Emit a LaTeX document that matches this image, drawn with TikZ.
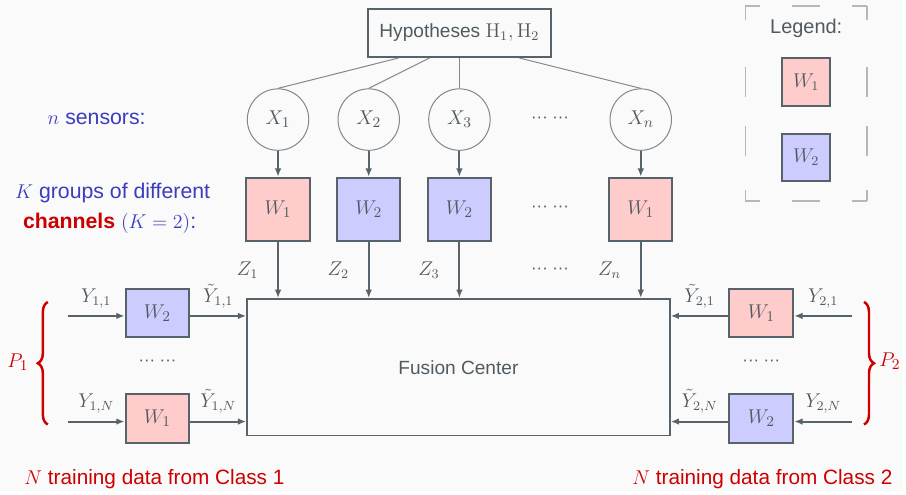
\documentclass[tikz,border=0pt]{standalone}
\usepackage{amsmath,amssymb}
\usepackage[no-math]{fontspec}
\setmainfont{Liberation Sans}
\usetikzlibrary{arrows.meta,positioning,decorations.pathreplacing}

\definecolor{bgcol}{HTML}{FAFAFA}
\definecolor{linecol}{HTML}{57636A}
\definecolor{txtcol}{HTML}{505A60}
\definecolor{circcol}{HTML}{80878D}
\definecolor{wonecol}{HTML}{FFCCCC}
\definecolor{wtwocol}{HTML}{CCCCFF}
\definecolor{bluetxt}{HTML}{3C3CBE}
\definecolor{redtxt}{HTML}{CC0000}
\definecolor{dashcol}{HTML}{B4B8BB}

\begin{document}
\begin{tikzpicture}[x=0.6pt,y=-0.6pt,
        wbox/.style={draw=linecol,line width=1.2pt,text=txtcol,inner sep=0pt,
            minimum width=38pt,minimum height=38pt,font=\fontsize{12.5}{14}\selectfont},
        sidebox/.style={wbox,minimum width=38.4pt,minimum height=29.4pt},
        legbox/.style={wbox,minimum width=28.8pt,minimum height=28.8pt,font=\fontsize{11.5}{13}\selectfont},
        sensor/.style={circle,draw=circcol,line width=0.6pt,minimum size=37pt,inner sep=0pt,
            text=txtcol,font=\fontsize{12.5}{14}\selectfont},
        arr/.style={draw=linecol,line width=1.2pt,-{Latex[length=5pt,width=4pt]}},
        feed/.style={draw=circcol,line width=0.6pt},
        lbl/.style={text=txtcol,font=\fontsize{12}{14}\selectfont},
        dotsl/.style={text=txtcol,font=\fontsize{10}{12}\selectfont},
        bluel/.style={text=bluetxt,font=\fontsize{12.8}{15}\selectfont},
        redl/.style={text=redtxt,font=\fontsize{12.5}{15}\selectfont},
        brc/.style={draw=redtxt,line width=1.5pt,decorate,decoration={brace,amplitude=6pt}},
        legdash/.style={draw=dashcol,line width=1pt}]

        \fill[bgcol] (0,0) rectangle (906,493);

        % hypotheses and sensors
        \node[draw=linecol,line width=1.2pt,minimum width=110pt,minimum height=29pt,
            text=txtcol,font=\fontsize{11.5}{14}\selectfont] (hyp) at (461,33) {Hypotheses $\mathrm{H}_1,\mathrm{H}_2$};
        \node[sensor] (x1) at (279,120) {$X_1$};
        \node[sensor] (x2) at (370,120) {$X_2$};
        \node[sensor] (x3) at (461,120) {$X_3$};
        \node[sensor] (xn) at (643,120) {$X_n$};
        \node[dotsl] (xdots) at (552,120) {··· ···};

        \draw[feed] ([xshift=-36.6pt]hyp.south) -- (x1.north);
        \draw[feed] ([xshift=-18pt]hyp.south) -- (x2.north);
        \draw[feed] (hyp.south) -- (x3.north);
        \draw[feed] ([xshift=36pt]hyp.south) -- (xn.north);

        % channels
        \node[wbox,fill=wonecol] (w1) at (279,210) {$W_1$};
        \node[wbox,fill=wtwocol] (w2) at (370,210) {$W_2$};
        \node[wbox,fill=wtwocol] (w3) at (461,210) {$W_2$};
        \node[wbox,fill=wonecol] (wn) at (643,210) {$W_1$};
        \node[dotsl] (wdots) at (552,210) {··· ···};
        \node[dotsl] (zdots) at (552,272) {··· ···};

        \node[draw=linecol,line width=1.2pt,minimum width=254.4pt,minimum height=82.2pt,
            text=txtcol,font=\fontsize{11.5}{14}\selectfont] (fc) at (460,368.5) {Fusion Center};

        \foreach \s in {1,2,3,n} {
            \draw[arr] (x\s) -- (w\s);
            \draw[arr] (w\s) -- (w\s |- fc.north) node[midway,left=8pt,lbl] {$Z_\s$};
        }

        % training data, class 1
        \coordinate (l1) at (68,317);
        \coordinate (l2) at (68,423);
        \node[sidebox,fill=wtwocol] (a1) at (158,314) {$W_2$};
        \node[sidebox,fill=wonecol] (a2) at (158,420) {$W_1$};
        \node[dotsl] (adots) at (158,364) {··· ···};
        \draw[arr] (l1) -- (l1 -| a1.west) node[midway,above=1pt,lbl] {$Y_{1,1}$};
        \draw[arr] (l1 -| a1.east) -- (l1 -| fc.west) node[midway,above=1pt,lbl] {$\tilde{Y}_{1,1}$};
        \draw[arr] (l2) -- (l2 -| a2.west) node[midway,above=1pt,lbl] {$Y_{1,N}$};
        \draw[arr] (l2 -| a2.east) -- (l2 -| fc.west) node[midway,above=1pt,lbl] {$\tilde{Y}_{1,N}$};

        % training data, class 2
        \coordinate (r1) at (855,317);
        \coordinate (r2) at (855,423);
        \node[sidebox,fill=wonecol] (b1) at (764,314) {$W_1$};
        \node[sidebox,fill=wtwocol] (b2) at (764,420) {$W_2$};
        \node[dotsl] (bdots) at (764,364) {··· ···};
        \draw[arr] (r1) -- (r1 -| b1.east) node[midway,above=1pt,lbl] {$Y_{2,1}$};
        \draw[arr] (r1 -| b1.west) -- (r1 -| fc.east) node[midway,above=1pt,lbl] {$\tilde{Y}_{2,1}$};
        \draw[arr] (r2) -- (r2 -| b2.east) node[midway,above=1pt,lbl] {$Y_{2,N}$};
        \draw[arr] (r2 -| b2.west) -- (r2 -| fc.east) node[midway,above=1pt,lbl] {$\tilde{Y}_{2,N}$};

        \draw[brc] (48,426) -- (48,303);
        \draw[brc] (867,303) -- (867,426);
        \node[redl] (p1) at (18,363) {$P_1$};
        \node[redl] (p2) at (893,362) {$P_2$};

        % side texts
        \node[bluel] (ns) at (97,119) {$n$ sensors:};
        \node[bluel] (kg) at (113,194) {$K$ groups of different};
        \node[bluel] (ch) at (110,224) {\textbf{\color{redtxt}channels} $(K=2)$:};
        \node[redl] (c1) at (155,481) {$N$ training data from Class 1};
        \node[redl] (c2) at (765,481) {$N$ training data from Class 2};

        % legend
        \draw[legdash,dash pattern=on 9pt off 19pt on 17pt off 19pt on 20pt] (748,6) -- (870,6);
        \draw[legdash,dash pattern=on 9pt off 19pt on 17pt off 19pt on 20pt] (748,202) -- (870,202);
        \draw[legdash,dash pattern=on 8.5pt off 28pt on 18pt off 18pt on 18pt off 20pt on 20pt] (748,6) -- (748,202);
        \draw[legdash,dash pattern=on 8.5pt off 28pt on 18pt off 18pt on 18pt off 20pt on 20pt] (870,6) -- (870,202);
        \node[text=txtcol,font=\fontsize{12}{14}\selectfont] (leg) at (809,28) {Legend:};
        \node[legbox,fill=wonecol] (lw1) at (809,82) {$W_1$};
        \node[legbox,fill=wtwocol] (lw2) at (809,158) {$W_2$};

\end{tikzpicture}
\end{document}
